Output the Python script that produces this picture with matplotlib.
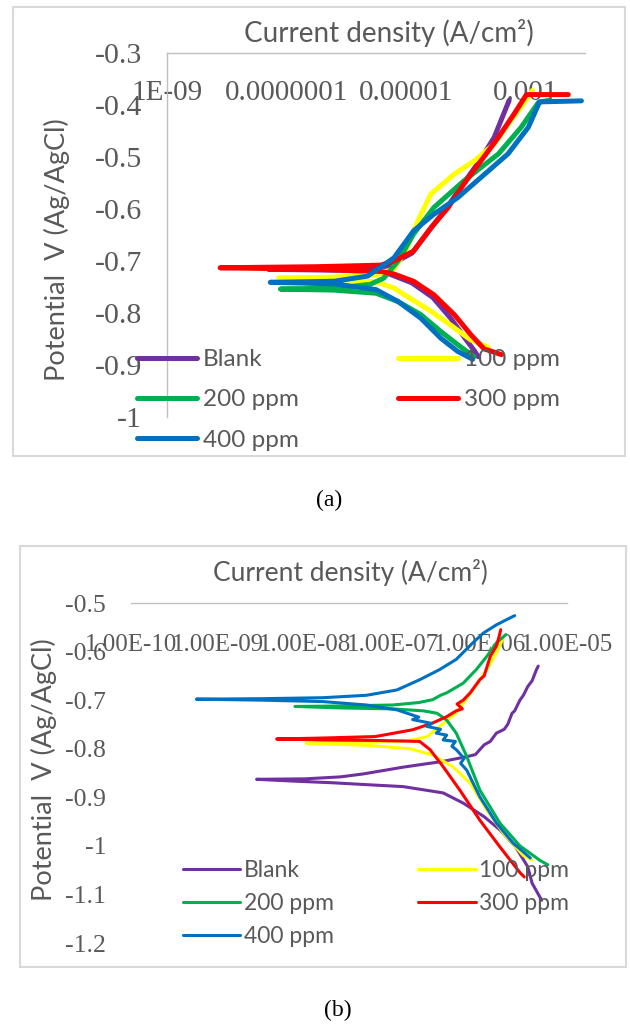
import numpy as np
import matplotlib
matplotlib.use("Agg")
import matplotlib.pyplot as plt
from matplotlib.patches import Rectangle
from matplotlib.ticker import NullLocator

W, H = 630, 1029
GRAY = "#595959"
SANS = ["Lato", "DejaVu Sans"]
SERIF = ["Liberation Serif", "DejaVu Serif"]

labels = ["Blank", "100 ppm", "200 ppm", "300 ppm", "400 ppm"]
colors = ["#7030A0", "#FFFF00", "#00B050", "#FF0000", "#0070C0"]

# ---- (a) Tafel curves: log10 current density and potential (V vs Ag/AgCl)
a_blank_logi = [-3.79, -3.85, -4.0, -4.25, -4.55, -4.9, -5.3, -6.0, -7.3,
                -6.0, -5.3, -4.9, -4.6, -4.3, -4.0, -3.75, -3.52, -3.27]
a_blank_v = [-0.884, -0.873, -0.85, -0.81, -0.77, -0.742, -0.724, -0.718, -0.716,
             -0.714, -0.71, -0.685, -0.64, -0.595, -0.545, -0.505, -0.462, -0.391]

a_100_logi = [-3.62, -3.91, -4.29, -4.6, -4.87, -5.2, -5.5, -6.2, -7.13,
              -6.2, -5.5, -5.2, -5.0, -4.8, -4.58, -4.19, -3.85, -3.52, -3.24, -2.95, -2.88]
a_100_v = [-0.866, -0.852, -0.82, -0.795, -0.776, -0.752, -0.74, -0.735, -0.733,
           -0.731, -0.727, -0.715, -0.68, -0.623, -0.571, -0.533, -0.507, -0.475, -0.43, -0.385, -0.372]

a_200_logi = [-3.86, -4.13, -4.41, -4.75, -5.13, -5.5, -6.2, -7.10,
              -6.2, -5.6, -5.37, -5.13, -4.87, -4.53, -4.03, -3.45, -3.07, -2.78, -2.6]
a_200_v = [-0.884, -0.861, -0.836, -0.803, -0.778, -0.762, -0.756, -0.754,
           -0.752, -0.745, -0.733, -0.70, -0.648, -0.597, -0.546, -0.494, -0.443, -0.395, -0.391]

a_300_logi = [-3.40, -3.69, -3.91, -4.19, -4.53, -4.87, -5.2, -5.42, -6.5, -8.11,
              -6.5, -5.42, -5.2, -4.87, -4.58, -4.29, -4.03, -3.74, -3.45, -3.18, -2.98, -2.28]
a_300_v = [-0.880, -0.869, -0.842, -0.803, -0.765, -0.739, -0.725, -0.72, -0.716, -0.713,
           -0.711, -0.708, -0.70, -0.681, -0.636, -0.597, -0.552, -0.507, -0.462, -0.416, -0.380, -0.380]

a_400_logi = [-3.88, -4.13, -4.41, -4.75, -5.13, -5.5, -6.2, -7.27,
              -6.2, -5.64, -5.20, -4.87, -4.53, -4.13, -3.74, -3.29, -2.95, -2.76, -2.06]
a_400_v = [-0.889, -0.874, -0.849, -0.810, -0.778, -0.755, -0.744, -0.741,
           -0.739, -0.729, -0.694, -0.642, -0.610, -0.578, -0.539, -0.494, -0.443, -0.394, -0.392]

# ---- (b)
b_blank_logi = [-5.29, -5.40, -5.45, -5.59, -5.77, -5.95, -6.19, -6.42, -6.88, -7.3, -7.7, -8.1, -8.56,
                -8.0, -7.6, -7.34, -6.88, -6.42, -6.14, -6.05, -5.95, -5.88, -5.81, -5.72, -5.68,
                -5.63, -5.60, -5.54, -5.50, -5.45, -5.40, -5.35, -5.33]
b_blank_v = [-1.112, -1.077, -1.043, -1.002, -0.967, -0.940, -0.912, -0.891, -0.878, -0.874, -0.870, -0.867, -0.863,
             -0.862, -0.858, -0.852, -0.838, -0.826, -0.816, -0.812, -0.792, -0.785, -0.768, -0.760, -0.750,
             -0.727, -0.722, -0.700, -0.690, -0.672, -0.660, -0.637, -0.630]

b_100_logi = [-5.40, -5.50, -5.73, -5.92, -6.11, -6.31, -6.54, -6.8, -7.3, -7.99,
              -7.3, -6.8, -6.6, -6.46, -6.27, -6.08, -5.92, -5.81, -5.74]
b_100_v = [-1.029, -1.020, -0.974, -0.926, -0.871, -0.837, -0.813, -0.800, -0.793, -0.789,
           -0.786, -0.783, -0.775, -0.754, -0.726, -0.679, -0.637, -0.603, -0.575]

b_200_logi = [-5.22, -5.31, -5.54, -5.77, -6.00, -6.15, -6.27, -6.38, -6.49, -6.65, -7.0, -7.6, -8.12,
              -7.6, -7.0, -6.7, -6.54, -6.45, -6.38, -6.19, -6.04, -5.92, -5.81, -5.70]
b_200_v = [-1.039, -1.030, -1.000, -0.953, -0.885, -0.816, -0.768, -0.741, -0.727, -0.722, -0.718, -0.716, -0.713,
           -0.712, -0.710, -0.705, -0.699, -0.690, -0.685, -0.665, -0.637, -0.610, -0.582, -0.565]

b_300_logi = [-5.49, -5.54, -5.77, -6.00, -6.23, -6.42, -6.57, -6.69, -7.2, -7.8, -8.33,
              -7.8, -7.2, -6.77, -6.54, -6.38, -6.27, -6.20, -6.26, -6.19, -6.11, -6.00, -5.95,
              -5.88, -5.81, -5.78, -5.76]
b_300_v = [-1.064, -1.055, -1.002, -0.947, -0.885, -0.837, -0.802, -0.785, -0.783, -0.782, -0.780,
           -0.778, -0.775, -0.761, -0.747, -0.734, -0.722, -0.718, -0.708, -0.700, -0.685, -0.658, -0.650,
           -0.610, -0.589, -0.570, -0.555]

b_400_logi = [-5.42, -5.62, -5.81, -6.00, -6.15, -6.22, -6.18, -6.27, -6.32, -6.28, -6.42, -6.38,
              -6.5, -6.45, -6.61, -6.55, -6.77, -6.70, -6.95, -7.3, -7.8, -8.5, -9.25,
              -8.5, -7.8, -7.3, -6.95, -6.69, -6.46, -6.27, -6.08, -5.96, -5.81, -5.69, -5.60]
b_400_v = [-1.025, -0.994, -0.953, -0.899, -0.844, -0.830, -0.820, -0.802, -0.795, -0.785, -0.782, -0.772,
           -0.768, -0.760, -0.754, -0.748, -0.740, -0.735, -0.720, -0.710, -0.703, -0.700, -0.698,
           -0.697, -0.695, -0.690, -0.679, -0.658, -0.637, -0.616, -0.582, -0.562, -0.545, -0.534, -0.526]

a_series = [(a_blank_logi, a_blank_v), (a_100_logi, a_100_v), (a_200_logi, a_200_v),
            (a_300_logi, a_300_v), (a_400_logi, a_400_v)]
b_series = [(b_blank_logi, b_blank_v), (b_100_logi, b_100_v), (b_200_logi, b_200_v),
            (b_300_logi, b_300_v), (b_400_logi, b_400_v)]

a_xticks = [1e-9, 1e-7, 1e-5, 1e-3]
a_xlabels = ["1E-09", "0.0000001", "0.00001", "0.001"]
a_yticks = [-0.3, -0.4, -0.5, -0.6, -0.7, -0.8, -0.9, -1.0]
a_ylabels = ["-0.3", "-0.4", "-0.5", "-0.6", "-0.7", "-0.8", "-0.9", "-1"]

b_xticks = [1e-10, 1e-9, 1e-8, 1e-7, 1e-6, 1e-5]
b_xlabels = ["1.00E-10", "1.00E-09", "1.00E-08", "1.00E-07", "1.00E-06", "1.00E-05"]
b_yticks = [-0.5, -0.6, -0.7, -0.8, -0.9, -1.0, -1.1, -1.2]
b_ylabels = ["-0.5", "-0.6", "-0.7", "-0.8", "-0.9", "-1", "-1.1", "-1.2"]


def box(x0, y0, x1, y1):
    # pixel box -> figure fraction [left, bottom, width, height]
    return [x0 / W, 1 - y1 / H, (x1 - x0) / W, (y1 - y0) / H]


fig = plt.figure(figsize=(W / 100, H / 100), dpi=100)
fig.patch.set_facecolor("white")

for x0, y0, x1, y1 in [(13, 7, 625, 456), (20, 546, 626, 967)]:
    fig.add_artist(Rectangle((x0 / W, 1 - y1 / H), (x1 - x0) / W, (y1 - y0) / H,
                             transform=fig.transFigure, fill=False,
                             edgecolor="#D9D9D9", linewidth=1.5))


def panel(rect, series, xlim, ylim, xticks, xlabels, yticks, ylabels,
          lw, tick_fs, show_left, title_xy, ylab_xy, title_fs, ylab_fs,
          leg_anchor, leg_fs, leg_kw):
    ax = fig.add_axes(box(*rect))
    lines = []
    for (logi, v), c, lab in zip(series, colors, labels):
        ln, = ax.plot(np.power(10.0, logi), v, color=c, lw=lw, label=lab,
                      solid_joinstyle="round", solid_capstyle="round")
        lines.append(ln)
    ax.set_xscale("log")
    ax.set_xlim(*xlim)
    ax.set_ylim(*ylim)
    ax.xaxis.set_minor_locator(NullLocator())
    ax.set_xticks(xticks)
    ax.set_xticklabels(xlabels, fontfamily=SERIF, fontsize=tick_fs, color=GRAY)
    ax.set_yticks(yticks)
    ax.set_yticklabels(ylabels, fontfamily=SERIF, fontsize=tick_fs + 0.5, color=GRAY)
    ax.tick_params(axis="x", length=0, top=True, bottom=False,
                   labeltop=True, labelbottom=False, pad=-38)
    ax.tick_params(axis="y", length=0, pad=18)
    for s in ["bottom", "right"]:
        ax.spines[s].set_visible(False)
    ax.spines["top"].set_color("#BFBFBF")
    ax.spines["top"].set_linewidth(1.0)
    ax.spines["left"].set_visible(show_left)
    ax.spines["left"].set_color("#BFBFBF")
    ax.spines["left"].set_linewidth(1.0)
    ax.patch.set_alpha(0)

    fig.text(title_xy[0] / W, 1 - title_xy[1] / H, "Current density (A/cm²)",
             ha="center", va="center", fontsize=title_fs, color=GRAY, family=SANS)
    fig.text(ylab_xy[0] / W, 1 - ylab_xy[1] / H, "Potential  V (Ag/AgCl)",
             ha="center", va="center", rotation=90, fontsize=ylab_fs,
             color=GRAY, family=SANS)

    order = [0, 2, 4, 1, 3]
    leg = ax.legend([lines[i] for i in order], [labels[i] for i in order],
                    ncol=2, loc="upper left", frameon=False,
                    bbox_to_anchor=(leg_anchor[0] / W, 1 - leg_anchor[1] / H),
                    bbox_transform=fig.transFigure, borderaxespad=0, borderpad=0,
                    prop={"family": SANS, "size": leg_fs}, **leg_kw)
    for t in leg.get_texts():
        t.set_color(GRAY)
    for h in leg.legend_handles:
        h.set_linewidth(lw)
    return ax


panel((167, 53, 585, 417), a_series, (1e-9, 1e-2), (-1.0, -0.3),
      a_xticks, a_xlabels, a_yticks, a_ylabels,
      lw=3.6, tick_fs=21, show_left=True,
      title_xy=(389, 33), ylab_xy=(57, 250), title_fs=20, ylab_fs=19.5,
      leg_anchor=(137, 349), leg_fs=17.5,
      leg_kw=dict(handlelength=2.45, handletextpad=0.25, columnspacing=4.1,
                  labelspacing=0.8))

panel((131, 603, 567, 943), b_series, (1e-10, 1e-5), (-1.2, -0.5),
      b_xticks, b_xlabels, b_yticks, b_ylabels,
      lw=2.2, tick_fs=18, show_left=False,
      title_xy=(350, 572), ylab_xy=(44, 770), title_fs=19, ylab_fs=19.5,
      leg_anchor=(183, 860), leg_fs=16.5,
      leg_kw=dict(handlelength=2.5, handletextpad=0.17, columnspacing=3.67,
                  labelspacing=0.53))

fig.text(329 / W, 1 - 500 / H, "(a)", ha="center", va="center",
         fontsize=17, color="black", family=SERIF)
fig.text(338 / W, 1 - 1010 / H, "(b)", ha="center", va="center",
         fontsize=17, color="black", family=SERIF)

fig.savefig("out.png", dpi=100, facecolor="white")
